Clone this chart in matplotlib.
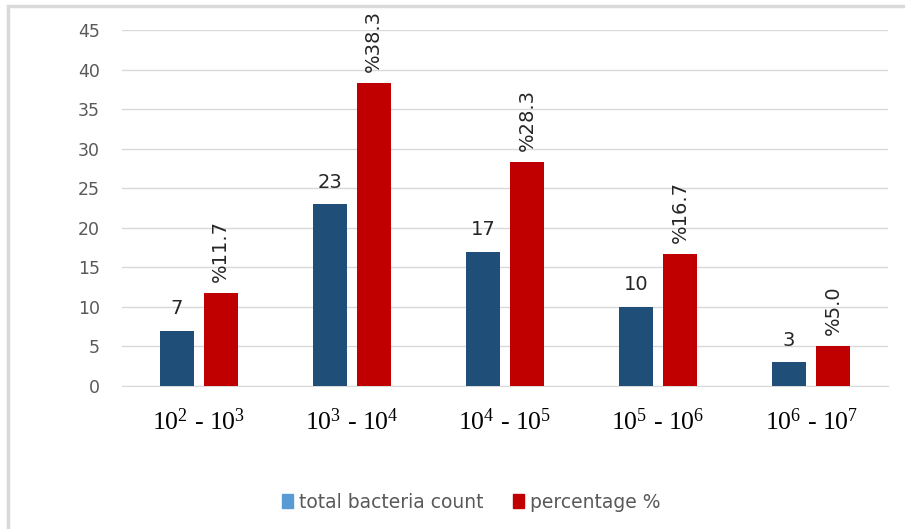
import matplotlib.pyplot as plt
import numpy as np
from matplotlib.patches import Rectangle, Patch

plt.rcParams['font.family'] = ['DejaVu Sans']
plt.rcParams['mathtext.fontset'] = 'custom'
plt.rcParams['mathtext.rm'] = 'Liberation Serif'
plt.rcParams['mathtext.it'] = 'Liberation Serif'

categories = ['$10^{2}$ - $10^{3}$', '$10^{3}$ - $10^{4}$', '$10^{4}$ - $10^{5}$',
              '$10^{5}$ - $10^{6}$', '$10^{6}$ - $10^{7}$']
counts = [7, 23, 17, 10, 3]
percents = [11.7, 38.3, 28.3, 16.7, 5.0]

blue = '#1F4E79'
red = '#C00000'

fig = plt.figure(figsize=(9.05, 5.29), dpi=100)
ax = fig.add_axes([0.1348, 0.2703, 0.8462, 0.673])

x = np.arange(len(categories))
w = 0.222
off = 0.144
ax.bar(x - off, counts, w, color=blue, zorder=3)
ax.bar(x + off, percents, w, color=red, zorder=3)

for xi, c in zip(x, counts):
    ax.annotate(str(c), (xi - off, c), xytext=(0, 9), textcoords='offset points',
                ha='center', va='bottom', fontsize=14, color='#262626')
for xi, p in zip(x, percents):
    ax.annotate('%' + f'{p:.1f}', (xi + off, p), xytext=(0, 8), textcoords='offset points',
                ha='center', va='bottom', rotation=90, fontsize=14, color='#262626')

ax.set_xlim(-0.5, 4.5)
ax.set_ylim(0, 45)
ax.set_yticks(range(0, 46, 5))
ax.set_xticks(x)
ax.set_xticklabels(categories, fontsize=18.5, color='black', family='Liberation Serif')
ax.tick_params(axis='x', length=0, pad=16)
ax.tick_params(axis='y', length=0, pad=16, labelsize=12.5, labelcolor='#595959')
ax.grid(axis='y', color='#D9D9D9', linewidth=1, zorder=0)
for s in ['top', 'right', 'left']:
    ax.spines[s].set_visible(False)
ax.spines['bottom'].set_color('#D9D9D9')

handles = [Patch(color='#5B9BD5'), Patch(color=red)]
fig.legend(handles, ['total bacteria count', 'percentage %'], loc='center',
           bbox_to_anchor=(471 / 905, 1 - 502 / 529), ncol=2, frameon=False,
           fontsize=13.5, labelcolor='#595959', handlelength=0.6, handleheight=0.7,
           handletextpad=0.3, columnspacing=1.6)

fig.patches.append(Rectangle((8 / 905, -0.1), 1.2, 1 - 6 / 529 + 0.1,
                             transform=fig.transFigure, fill=False,
                             edgecolor='#D9D9D9', linewidth=2.5))

fig.savefig('out.png', dpi=100)
